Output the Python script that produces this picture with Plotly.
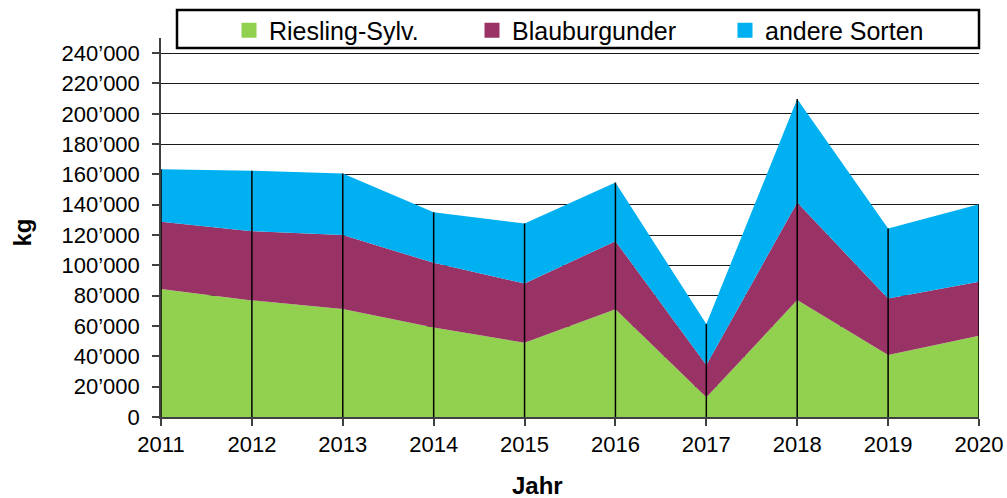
import plotly.graph_objects as go

years = [2011, 2012, 2013, 2014, 2015, 2016, 2017, 2018, 2019, 2020]
riesling = [84400, 76900, 71200, 59100, 49000, 71000, 13000, 77100, 40900, 53600]
blauburgunder = [44400, 45700, 48800, 42600, 39100, 45000, 21300, 64400, 37300, 35600]
andere = [34700, 39800, 40700, 33300, 39600, 38700, 27000, 68200, 46200, 51200]

series_names = ["Riesling-Sylv.", "Blauburgunder", "andere Sorten"]
series_values = [riesling, blauburgunder, andere]
colors = ["#92D050", "#993366", "#00B0F0"]

y_ticks = list(range(0, 240001, 20000))
y_ticktext = [f"{v:,}".replace(",", "\u2019") for v in y_ticks]

FONT = "Liberation Sans, Arial, sans-serif"

fig = go.Figure()

for name, vals, col in zip(series_names, series_values, colors):
    fig.add_trace(go.Scatter(
        x=years, y=vals, name=name, stackgroup="one", mode="none",
        fillcolor=col, showlegend=False, hoverinfo="x+y+name",
    ))

# drop lines from 0 to stack total at each year
totals = [r + b + a for r, b, a in zip(riesling, blauburgunder, andere)]
dx, dy = [], []
for yr, t in zip(years, totals):
    dx += [yr, yr, None]
    dy += [0, t, None]
fig.add_trace(go.Scatter(x=dx, y=dy, mode="lines", line=dict(color="black", width=1.5),
                         showlegend=False, hoverinfo="skip", cliponaxis=False))

# legend entries (one legend each for exact placement)
legend_ids = ["legend", "legend2", "legend3"]
for name, col, lid in zip(series_names, colors, legend_ids):
    fig.add_trace(go.Scatter(
        x=[None], y=[None], mode="markers", name=name,
        marker=dict(symbol="square", size=15, color=col),
        showlegend=True, legend=lid,
    ))

W, H = 1007, 498
PL, PR, PT, PB = 161, 979, 38, 417   # axis area in pixels
TOP = 8                               # top of paper region in pixels
PW, PPH = PR - PL, PB - TOP           # paper width / paper height

def px_x(px):
    return (px - PL) / PW

def px_y(py):
    return (PB - py) / PPH

leg_common = dict(orientation="h", xanchor="left", yanchor="middle",
                  font=dict(size=25, family=FONT, color="black"),
                  bgcolor="rgba(0,0,0,0)", borderwidth=0, itemwidth=30)
legend_sq_centers = [247, 490, 743]

layout_legends = {}
for lid, cx in zip(legend_ids, legend_sq_centers):
    layout_legends[lid] = dict(leg_common, x=px_x(cx - 18), y=px_y(30.5))

fig.update_layout(
    width=W, height=H,
    margin=dict(l=PL, r=W - PR, t=TOP, b=H - PB, autoexpand=False),
    paper_bgcolor="white", plot_bgcolor="white",
    font=dict(family=FONT, color="black", size=22),
    xaxis=dict(range=[2011, 2020], tickvals=years, ticks="outside", ticklen=7,
               tickcolor="#404040", tickwidth=1.5, showline=True, linecolor="#404040",
               linewidth=1.5, showgrid=False, zeroline=False, automargin=False,
               tickfont=dict(size=22, family=FONT, color="black")),
    yaxis=dict(range=[0, 250000], tickvals=y_ticks, ticktext=y_ticktext,
               domain=[0, (PB - PT) / PPH],
               ticks="outside", ticklen=7, tickcolor="#404040", tickwidth=1.5,
               showline=True, linecolor="#404040", linewidth=1.5,
               showgrid=True, gridcolor="#1a1a1a", gridwidth=1.3, zeroline=False,
               ticklabelstandoff=8, automargin=False,
               tickfont=dict(size=22, family=FONT, color="black")),
    shapes=[dict(type="rect", xref="paper", yref="paper",
                 x0=px_x(177), x1=px_x(979), y0=px_y(48), y1=px_y(10),
                 line=dict(color="black", width=2.5), fillcolor="rgba(0,0,0,0)")],
    annotations=[
        dict(text="<b>kg</b>", xref="paper", yref="paper", x=px_x(22), y=px_y(232.5),
             textangle=-90, showarrow=False, font=dict(size=24, family=FONT, color="black"),
             xanchor="center", yanchor="middle"),
        dict(text="<b>Jahr</b>", xref="paper", yref="paper", x=px_x(537), y=px_y(485),
             showarrow=False, font=dict(size=24, family=FONT, color="black"),
             xanchor="center", yanchor="middle"),
    ],
    **layout_legends,
)

fig.write_html("out.html", config={"displayModeBar": False},
               post_script="document.body.style.margin='0';document.body.style.overflow='hidden';")
